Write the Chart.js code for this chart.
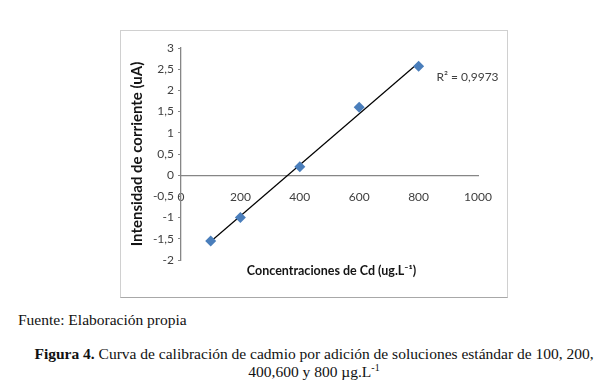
<!DOCTYPE html>
<html>
<head>
<meta charset="utf-8">
<script src="https://cdn.jsdelivr.net/npm/chart.js@4"></script>
<style>
  html, body { margin: 0; padding: 0; background: #fff; }
  body { width: 595px; height: 389px; position: relative; overflow: hidden; }
  .chart__frame {
    position: absolute; left: 120px; top: 30px; width: 386px; height: 266px;
    border: 1px solid #d0d0d0; border-bottom-color: #a8a8a8;
  }
  .chart__frame canvas { display: block; }
  .source {
    position: absolute; left: 18px; top: 311px;
    font: 15.5px "Liberation Serif", "Times New Roman", serif; color: #111;
  }
  .caption {
    position: absolute; left: 30px; top: 345px; width: 568px;
    text-align: center; line-height: 18px;
    font: 15.5px "Liberation Serif", "Times New Roman", serif; color: #111;
  }
  .caption sup { font-size: 10px; line-height: 0; }
</style>
</head>
<body>
<div class="chart__frame"><canvas id="calibration-chart" width="386" height="266"></canvas></div>
<div class="source">Fuente: Elaboración propia</div>
<div class="caption"><b>Figura 4.</b> Curva de calibración de cadmio por adición de soluciones estándar de 100, 200,<br>400,600 y 800 µg.L<sup>-1</sup></div>
<script>
  // concentrations (ug/L) and measured current (uA)
  const concentrations = [100, 200, 400, 600, 800];
  const currents = [-1.55, -1.0, 0.2, 1.6, 2.57];
  const xTicks = [0, 200, 400, 600, 800, 1000];
  const yTicks = [-2, -1.5, -1, -0.5, 0, 0.5, 1, 1.5, 2, 2.5, 3];
  const rSquaredLabel = "R² = 0,9973";

  const axisGray = "rgb(134, 134, 134)";
  const textGray = "rgb(64, 64, 64)";
  const fontFamily = "Lato, 'Open Sans', sans-serif";

  // least squares trendline from the measured points
  const n = concentrations.length;
  const meanX = concentrations.reduce((a, b) => a + b, 0) / n;
  const meanY = currents.reduce((a, b) => a + b, 0) / n;
  let sxy = 0, sxx = 0;
  concentrations.forEach((x, i) => {
    sxy += (x - meanX) * (currents[i] - meanY);
    sxx += (x - meanX) * (x - meanX);
  });
  const slope = sxy / sxx;
  const intercept = meanY - slope * meanX;
  const trendX = [concentrations[0], concentrations[n - 1]];

  const comma = (v) => String(v).replace(".", ",");

  const extraText = {
    id: "extraText",
    afterDraw(chart) {
      const ctx = chart.ctx;
      const area = chart.chartArea;
      const xs = chart.scales.x;
      const ys = chart.scales.y;
      ctx.save();
      ctx.fillStyle = "rgb(20, 20, 20)";
      ctx.font = "bold 12.5px " + fontFamily;
      ctx.textAlign = "center";
      ctx.textBaseline = "middle";
      ctx.fillText("Concentraciones de Cd (ug.L\u207B\u00B9)", (area.left + area.right) / 2 + 2, 240);
      ctx.fillStyle = textGray;
      ctx.font = "12px " + fontFamily;
      ctx.textAlign = "left";
      ctx.fillText(rSquaredLabel, xs.getPixelForValue(860), ys.getPixelForValue(2.32));
      ctx.restore();
    },
  };

  new Chart(document.getElementById("calibration-chart").getContext("2d"), {
    type: "scatter",
    data: {
      datasets: [
        {
          label: "Corriente",
          data: concentrations.map((x, i) => ({ x: x, y: currents[i] })),
          pointStyle: "rectRot",
          pointRadius: 5.5,
          pointHoverRadius: 5.5,
          backgroundColor: "rgb(74, 126, 187)",
          borderColor: "rgb(74, 126, 187)",
          borderWidth: 0,
          order: 1,
        },
        {
          type: "line",
          label: "Lineal",
          data: trendX.map((x) => ({ x: x, y: intercept + slope * x })),
          borderColor: "rgb(0, 0, 0)",
          borderWidth: 1.2,
          pointRadius: 0,
          showLine: true,
          order: 2,
        },
      ],
    },
    options: {
      responsive: false,
      animation: false,
      layout: { padding: { top: 17, right: 29, bottom: 0, left: 0 } },
      scales: {
        x: {
          type: "linear",
          position: { y: 0 },
          min: 0,
          max: 1000,
          afterBuildTicks: (scale) => { scale.ticks = xTicks.map((v) => ({ value: v })); },
          afterFit: (scale) => { scale.height = 0; },
          grid: { drawOnChartArea: false, drawTicks: false, color: axisGray },
          border: { color: axisGray, width: 1.3 },
          ticks: {
            color: textGray,
            font: { family: fontFamily, size: 12 },
            padding: 15,
            callback: (v) => String(v),
          },
        },
        xTitle: {
          type: "linear",
          axis: "x",
          position: "bottom",
          min: 0,
          max: 1000,
          afterFit: (scale) => { scale.height = 37; },
          grid: { display: false },
          border: { display: false },
          ticks: { display: false },
        },
        y: {
          type: "linear",
          position: "left",
          min: -2,
          max: 3,
          afterBuildTicks: (scale) => { scale.ticks = yTicks.map((v) => ({ value: v })); },
          afterFit: (scale) => { scale.width = 60; },
          grid: { drawOnChartArea: false, drawTicks: true, tickLength: 3, color: axisGray },
          border: { color: axisGray, width: 1.3 },
          ticks: {
            color: textGray,
            font: { family: fontFamily, size: 12 },
            padding: 4,
            callback: (v) => comma(v),
          },
          title: {
            display: true,
            text: "Intensidad de corriente (uA)",
            color: "rgb(20, 20, 20)",
            font: { family: fontFamily, size: 15, weight: "bold" },
            padding: { top: 7, bottom: 0 },
          },
        },
      },
      plugins: {
        legend: { display: false },
        tooltip: { enabled: false },
      },
    },
    plugins: [extraText],
  });
</script>
</body>
</html>
